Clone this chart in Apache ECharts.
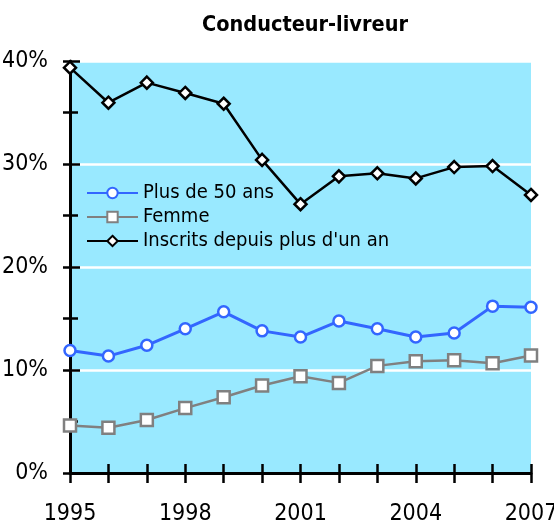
<!DOCTYPE html>
<html>
<head>
<meta charset="utf-8">
<script src="https://cdn.jsdelivr.net/npm/echarts@6/dist/echarts.min.js"></script>
<style>
  html, body { margin: 0; padding: 0; background: #fff; }
  #chart { width: 554px; height: 525px; }
</style>
</head>
<body>
<div id="chart"></div>
<script>
// 年份
var years = [1995, 1996, 1997, 1998, 1999, 2000, 2001, 2002, 2003, 2004, 2005, 2006, 2007];
// 各系列数值（%）
var plus50 = [11.9, 11.35, 12.4, 14.0, 15.65, 13.8, 13.2, 14.75, 14.0, 13.2, 13.6, 16.2, 16.1];
var femme = [4.6, 4.4, 5.15, 6.3, 7.35, 8.5, 9.4, 8.75, 10.4, 10.85, 10.95, 10.65, 11.4];
var inscrits = [39.35, 35.95, 37.9, 36.9, 35.85, 30.4, 26.1, 28.8, 29.1, 28.6, 29.7, 29.8, 27.0];
var seriesNames = ['Plus de 50 ans', 'Femme', 'Inscrits depuis plus d\'un an'];
var labelYears = [1995, 1998, 2001, 2004, 2007];

var FONT = '"Liberation Sans Narrow", "DejaVu Sans Condensed", sans-serif';

function pairs(arr) {
  return years.map(function (y, i) { return [y, arr[i]]; });
}

var chart = echarts.init(document.getElementById('chart'));
var option = {
  animation: false,
  textStyle: { fontFamily: FONT },
  title: {
    text: 'Conducteur-livreur',
    left: 300,
    top: 9,
    textAlign: 'center',
    textStyle: { fontFamily: FONT, fontWeight: 'bold', fontSize: 21.5, color: '#000' }
  },
  legend: {
    orient: 'vertical',
    left: 81,
    top: 178,
    itemWidth: 51,
    itemHeight: 13,
    itemGap: 4,
    data: seriesNames,
    textStyle: { fontFamily: FONT, fontSize: 20, color: '#000' }
  },
  grid: {
    left: 70,
    right: 23,
    top: 61,
    bottom: 52,
    outerBoundsMode: 'none',
    containLabel: false,
    show: true,
    backgroundColor: '#99e9ff',
    borderWidth: 0
  },
  xAxis: [{
    type: 'value',
    min: 1995,
    max: 2007,
    interval: 1,
    axisLine: { lineStyle: { color: '#000', width: 3 } },
    axisTick: { inside: false, length: 10, lineStyle: { color: '#000', width: 2.5 } },
    axisLabel: {
      margin: 30,
      fontSize: 23,
      color: '#000',
      fontFamily: FONT,
      formatter: function (v) { return labelYears.indexOf(v) >= 0 ? String(v) : ''; }
    },
    splitLine: { show: false }
  }, {
    type: 'value',
    position: 'bottom',
    min: 1995,
    max: 2007,
    interval: 1,
    axisLine: { show: false },
    axisTick: { inside: true, length: 9, lineStyle: { color: '#000', width: 2.5 } },
    axisLabel: { show: false },
    splitLine: { show: false }
  }],
  yAxis: [{
    type: 'value',
    min: 0,
    max: 40,
    interval: 5,
    axisLine: { show: true, lineStyle: { color: '#000', width: 3 } },
    axisTick: { inside: false, length: 7, lineStyle: { color: '#000', width: 2.5 } },
    axisLabel: {
      margin: 22,
      fontSize: 23,
      color: '#000',
      fontFamily: FONT,
      formatter: function (v) { return v % 10 === 0 ? v + '%' : ''; }
    },
    splitLine: { show: false }
  }, {
    type: 'value',
    position: 'left',
    min: 0,
    max: 40,
    interval: 10,
    axisLine: { show: false },
    axisTick: { show: true, inside: true, length: 10, lineStyle: { color: '#000', width: 2.5 } },
    minorTick: { show: true, splitNumber: 2, length: 8, lineStyle: { color: '#000', width: 2.5 } },
    axisLabel: { show: false },
    splitLine: { show: true, lineStyle: { color: '#fff', width: 2.5 } }
  }],
  series: [{
    name: seriesNames[0],
    type: 'line',
    data: pairs(plus50),
    symbol: 'circle',
    symbolSize: 11,
    z: 3,
    lineStyle: { color: '#3366ff', width: 3 },
    itemStyle: { color: '#fff', borderColor: '#3366ff', borderWidth: 2.5 }
  }, {
    name: seriesNames[1],
    type: 'line',
    data: pairs(femme),
    symbol: 'rect',
    symbolSize: 12,
    z: 3,
    lineStyle: { color: '#808080', width: 2.5 },
    itemStyle: { color: '#fff', borderColor: '#808080', borderWidth: 2.5 }
  }, {
    name: seriesNames[2],
    type: 'line',
    data: pairs(inscrits),
    symbol: 'diamond',
    symbolSize: 12,
    z: 3,
    lineStyle: { color: '#000', width: 2.5 },
    itemStyle: { color: '#fff', borderColor: '#000', borderWidth: 2.5 }
  }]
};
chart.setOption(option);
</script>
</body>
</html>
